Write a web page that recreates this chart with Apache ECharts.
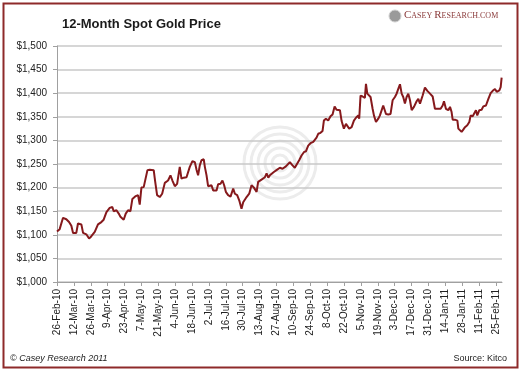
<!DOCTYPE html>
<html>
<head>
<meta charset="utf-8">
<script src="https://cdn.jsdelivr.net/npm/echarts@6/dist/echarts.min.js"></script>
<style>
  html, body { margin: 0; padding: 0; background: #fff; }
  #chart { width: 525px; height: 375px; }
</style>
</head>
<body>
<div id="chart"></div>
<script>
// day offsets from 26-Feb-10
var days = [0, 2.2, 5, 7.7, 10, 11.9, 13.3, 16, 17.4, 20.2, 21.6, 24.3, 26.6, 28.5, 31.3, 34, 36.8, 38.7, 41, 43.7,
  45.9, 47, 49.3, 51.2, 52.6, 54.2, 55.3, 57, 58.9, 60.9, 62.5, 65.3, 67.2, 68.6, 70, 71.9, 73.3, 75, 76.9, 80.2,
  81.3, 83, 85.2, 87.2, 89.4, 90.8, 92.1, 94.1, 95.7, 97.7, 99.6, 101.8, 103.2, 105.1, 107.4, 108.7, 110.1, 112.3, 114.3, 115.7,
  117, 118.4, 119.8, 121.7, 122.6, 124, 125.3, 126.7, 128.1, 129.5, 132.3, 133.6, 135.6, 137.2, 138.6, 140, 141.9, 143.9, 146.1, 147.5,
  149.4, 151.1, 153, 154.4, 157.2, 159.4, 161.3, 163.3, 165.5, 166.8, 169.6, 172.4, 173.8, 175.2, 176.5, 179.8, 182, 184.8, 187, 189.8,
  193.1, 195.3, 197.2, 198.6, 200.8, 202.8, 204.7, 206.4, 208.3, 210.2, 212.5, 213.8, 215.2, 216.6, 218.5, 220.2, 221.3, 223, 224.9, 226.8,
  228.5, 230.2, 231.8, 234.6, 236, 237.9, 239.6, 240.7, 242.3, 244.3, 246.2, 247.9, 249.8, 250.6, 251.7, 253.4, 255.3, 256.2, 257.3, 258.7,
  260, 261.7, 262.8, 264.5, 266.4, 267.8, 269.4, 270.5, 271.9, 272.8, 274.7, 276.6, 278.3, 280.2, 281.6, 283, 284.4, 285.8, 287.1, 288.5,
  289.9, 291.3, 292.7, 294.1, 296, 298.2, 299.6, 301, 303.2, 305.1, 307.1, 309.3, 311.5, 313.4, 316.2, 318.1, 319.8, 320.9, 322.5, 324.5,
  325.9, 327.2, 328.1, 330, 332, 332.8, 334.2, 335.5, 336.9, 338.3, 340.2, 341.9, 343, 344.7, 345.8, 347.4, 348.5, 350.2, 352.1, 353.5,
  355.7, 357.7, 359.6, 361.3, 363.2, 364.6, 366.8, 367.9, 368.7];
var prices = [1107, 1112, 1136, 1133, 1127, 1119, 1104, 1104, 1124, 1122, 1104, 1101, 1092, 1097, 1106, 1122, 1127, 1132, 1148, 1157,
  1159, 1150, 1152, 1145, 1138, 1141, 1132, 1145, 1152, 1150, 1176, 1182, 1184, 1164, 1200, 1201, 1198, 1237, 1238, 1237,
  1215, 1184, 1180, 1187, 1210, 1207, 1215, 1226, 1215, 1203, 1208, 1244, 1219, 1221, 1222, 1226, 1244, 1256, 1254, 1238,
  1226, 1247, 1258, 1260, 1244, 1226, 1203, 1206, 1205, 1194, 1194, 1207, 1208, 1215, 1205, 1191, 1184, 1181, 1198, 1187,
  1184, 1173, 1155, 1169, 1180, 1187, 1205, 1200, 1191, 1212, 1217, 1222, 1230, 1221, 1226, 1233, 1237, 1242, 1240, 1245,
  1254, 1247, 1242, 1240, 1258, 1268, 1275, 1277, 1289, 1294, 1297, 1300, 1306, 1314, 1316, 1320, 1342, 1346, 1342, 1351,
  1355, 1372, 1365, 1364, 1341, 1325, 1335, 1339, 1325, 1328, 1342, 1348, 1353, 1346, 1395, 1393, 1390, 1420, 1399, 1403,
  1392, 1367, 1353, 1339, 1346, 1353, 1355, 1374, 1378, 1356, 1355, 1356, 1385, 1392, 1399, 1409, 1419, 1399, 1392, 1378,
  1392, 1399, 1385, 1364, 1371, 1383, 1388, 1378, 1395, 1412, 1405, 1399, 1393, 1367, 1367, 1367, 1374, 1383, 1367, 1364,
  1371, 1360, 1344, 1344, 1342, 1325, 1328, 1318, 1323, 1328, 1332, 1339, 1353, 1351, 1349, 1364, 1353, 1364, 1365, 1372,
  1374, 1388, 1400, 1405, 1409, 1403, 1406, 1413, 1433];
var tickLabels = ['26-Feb-10', '12-Mar-10', '26-Mar-10', '9-Apr-10', '23-Apr-10', '7-May-10', '21-May-10', '4-Jun-10', '18-Jun-10',
  '2-Jul-10', '16-Jul-10', '30-Jul-10', '13-Aug-10', '27-Aug-10', '10-Sep-10', '24-Sep-10', '8-Oct-10', '22-Oct-10', '5-Nov-10',
  '19-Nov-10', '3-Dec-10', '17-Dec-10', '31-Dec-10', '14-Jan-11', '28-Jan-11', '11-Feb-11', '25-Feb-11'];

var chart = echarts.init(document.getElementById('chart'));

var lineData = [];
for (var i = 0; i < days.length; i++) {
  lineData.push([days[i], prices[i]]);
}

// faint watermark behind the line
var swirl = [];
[8, 15, 22, 29, 36].forEach(function (r) {
  swirl.push({
    type: 'circle', shape: { cx: 280, cy: 163, r: r }, z: 0, silent: true,
    style: { fill: null, stroke: '#ececec', lineWidth: 3 }
  });
});

var option = {
  backgroundColor: '#fff',
  animation: false,
  textStyle: { fontFamily: 'Liberation Sans, Arial, sans-serif' },
  grid: { left: 57, right: 23, top: 46, bottom: 93 },
  xAxis: {
    type: 'value',
    min: 0,
    max: 369,
    interval: 14,
    splitLine: { show: false },
    axisLine: { lineStyle: { color: '#a0a0a0' } },
    axisTick: { length: 4, lineStyle: { color: '#a0a0a0' } },
    axisLabel: {
      rotate: 90,
      fontSize: 10,
      color: '#222',
      margin: 7,
      showMaxLabel: false,
      formatter: function (v) {
        var k = v / 14;
        return Number.isInteger(k) ? tickLabels[k] : '';
      }
    }
  },
  yAxis: {
    type: 'value',
    min: 1000,
    max: 1500,
    interval: 50,
    axisLine: { show: true, lineStyle: { color: '#a0a0a0' } },
    axisTick: { show: true, length: 4, lineStyle: { color: '#a0a0a0' } },
    splitLine: { lineStyle: { color: '#c8c8c8', width: 1.5 } },
    axisLabel: {
      fontSize: 10,
      color: '#222',
      margin: 10,
      formatter: function (v) { return '$' + v.toLocaleString('en-US'); }
    }
  },
  series: [{
    type: 'line',
    data: lineData,
    showSymbol: false,
    z: 5,
    lineStyle: { color: '#86191c', width: 2 }
  }],
  graphic: swirl.concat([
    {
      type: 'rect', shape: { x: 3.5, y: 3.5, width: 514, height: 364 }, silent: true,
      style: { fill: null, stroke: '#8e2a2a', lineWidth: 2 }
    },
    {
      type: 'text', left: 62, top: 18,
      style: { text: '12-Month Spot Gold Price', font: 'bold 13px Liberation Sans, Arial, sans-serif', fill: '#1a1a1a' }
    },
    {
      type: 'circle', shape: { cx: 395, cy: 16, r: 6 }, silent: true,
      style: { fill: '#9a9a9a', stroke: '#d0d0d0', lineWidth: 1 }
    },
    {
      type: 'text', left: 404, top: 10,
      style: {
        text: '{b|C}{s|ASEY }{b|R}{s|ESEARCH.COM}',
        rich: {
          b: { fontFamily: 'Liberation Serif, serif', fontSize: 11, fill: '#8a3a3a' },
          s: { fontFamily: 'Liberation Serif, serif', fontSize: 8, fill: '#8a3a3a' }
        }
      }
    },
    {
      type: 'text', left: 10, top: 354,
      style: { text: '\u00a9 Casey Research 2011', font: 'italic 9px Liberation Sans, Arial, sans-serif', fill: '#222' }
    },
    {
      type: 'text', right: 18, top: 354,
      style: { text: 'Source: Kitco', font: '9px Liberation Sans, Arial, sans-serif', fill: '#222' }
    }
  ])
};

chart.setOption(option);
</script>
</body>
</html>
